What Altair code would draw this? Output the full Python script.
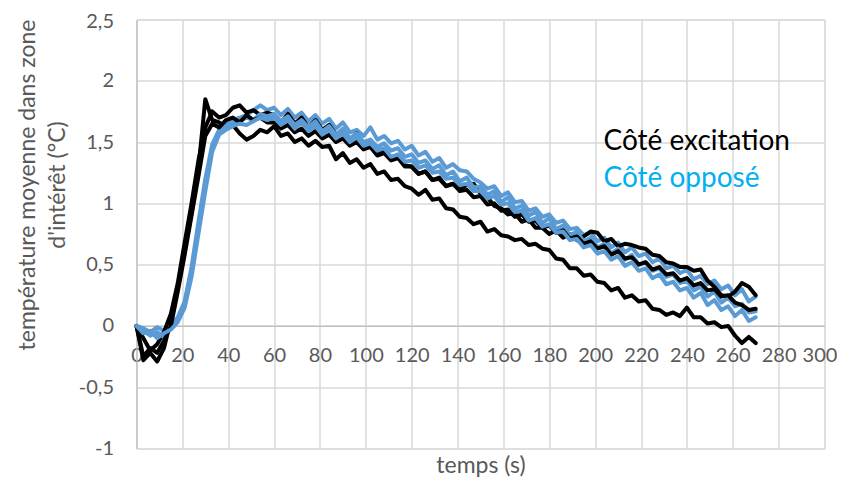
import altair as alt
import pandas as pd

# time axis (s), one sample every 3 s
T = list(range(0, 271, 3))

# Côté excitation (black)
B1 = [0.00, -0.28, -0.22, -0.29, -0.18, 0.05, 0.32, 0.62, 0.92, 1.28,
      1.85, 1.68, 1.66, 1.62, 1.64, 1.57, 1.52, 1.55, 1.60, 1.58,
      1.63, 1.55, 1.57, 1.50, 1.53, 1.47, 1.51, 1.46, 1.47, 1.36,
      1.41, 1.33, 1.36, 1.29, 1.32, 1.24, 1.26, 1.19, 1.20, 1.14,
      1.12, 1.07, 1.11, 1.03, 1.04, 0.96, 0.95, 0.89, 0.88, 0.83,
      0.85, 0.77, 0.79, 0.74, 0.73, 0.70, 0.71, 0.66, 0.67, 0.63,
      0.62, 0.55, 0.54, 0.47, 0.47, 0.41, 0.42, 0.36, 0.35, 0.29,
      0.31, 0.23, 0.25, 0.20, 0.21, 0.14, 0.13, 0.09, 0.11, 0.08,
      0.15, 0.07, 0.07, 0.02, 0.03, -0.01, 0.00, -0.08, -0.14, -0.09,
      -0.14]
B2 = [0.00, -0.10, -0.20, -0.15, -0.05, 0.10, 0.35, 0.68, 1.00, 1.35,
      1.62, 1.75, 1.70, 1.72, 1.78, 1.80, 1.74, 1.76, 1.72, 1.74,
      1.72, 1.66, 1.73, 1.65, 1.70, 1.62, 1.68, 1.60, 1.64, 1.56,
      1.60, 1.52, 1.57, 1.46, 1.47, 1.41, 1.42, 1.36, 1.38, 1.31,
      1.30, 1.24, 1.26, 1.19, 1.20, 1.14, 1.16, 1.11, 1.15, 1.16,
      1.08, 1.05, 0.98, 0.96, 0.91, 0.92, 0.85, 0.87, 0.80, 0.80,
      0.75, 0.78, 0.72, 0.75, 0.70, 0.73, 0.77, 0.76, 0.69, 0.71,
      0.65, 0.67, 0.66, 0.64, 0.63, 0.58, 0.57, 0.52, 0.51, 0.48,
      0.48, 0.45, 0.46, 0.37, 0.32, 0.25, 0.24, 0.28, 0.35, 0.32,
      0.25]
B3 = [0.00, -0.25, -0.18, -0.22, -0.12, 0.00, 0.28, 0.58, 0.90, 1.22,
      1.55, 1.65, 1.62, 1.68, 1.70, 1.66, 1.72, 1.68, 1.70, 1.66,
      1.66, 1.61, 1.64, 1.58, 1.61, 1.55, 1.59, 1.53, 1.56, 1.50,
      1.53, 1.47, 1.50, 1.44, 1.46, 1.39, 1.41, 1.35, 1.37, 1.30,
      1.30, 1.24, 1.26, 1.19, 1.21, 1.14, 1.16, 1.10, 1.11, 1.05,
      1.06, 0.99, 1.00, 0.94, 0.95, 0.89, 0.91, 0.85, 0.86, 0.80,
      0.82, 0.76, 0.78, 0.71, 0.73, 0.67, 0.69, 0.63, 0.65, 0.58,
      0.61, 0.55, 0.56, 0.50, 0.52, 0.46, 0.48, 0.42, 0.43, 0.37,
      0.39, 0.33, 0.35, 0.29, 0.30, 0.24, 0.25, 0.19, 0.17, 0.13,
      0.14]

# Côté opposé (blue)
L1 = [0.00, -0.02, -0.05, -0.01, -0.04, 0.00, 0.07, 0.20, 0.48, 0.85,
      1.20, 1.48, 1.60, 1.65, 1.68, 1.70, 1.72, 1.76, 1.80, 1.76,
      1.78, 1.72, 1.77, 1.70, 1.74, 1.67, 1.72, 1.65, 1.69, 1.61,
      1.66, 1.58, 1.60, 1.55, 1.62, 1.52, 1.55, 1.49, 1.51, 1.44,
      1.47, 1.39, 1.42, 1.34, 1.37, 1.29, 1.32, 1.27, 1.26, 1.20,
      1.17, 1.12, 1.14, 1.06, 1.09, 1.01, 1.02, 0.94, 0.96, 0.89,
      0.91, 0.84, 0.86, 0.79, 0.80, 0.74, 0.76, 0.69, 0.72, 0.64,
      0.68, 0.60, 0.64, 0.57, 0.59, 0.52, 0.55, 0.47, 0.49, 0.43,
      0.46, 0.38, 0.41, 0.34, 0.37, 0.30, 0.33, 0.25, 0.30, 0.20,
      0.24]
L2 = [0.00, -0.04, -0.08, -0.05, -0.09, -0.02, 0.05, 0.18, 0.45, 0.80,
      1.15, 1.45, 1.58, 1.62, 1.66, 1.67, 1.70, 1.68, 1.73, 1.71,
      1.73, 1.67, 1.71, 1.64, 1.68, 1.62, 1.67, 1.59, 1.63, 1.56,
      1.61, 1.53, 1.57, 1.50, 1.52, 1.46, 1.49, 1.43, 1.45, 1.38,
      1.40, 1.33, 1.35, 1.28, 1.31, 1.23, 1.26, 1.18, 1.21, 1.13,
      1.14, 1.07, 1.10, 1.01, 1.05, 0.96, 0.98, 0.90, 0.93, 0.84,
      0.88, 0.79, 0.82, 0.74, 0.77, 0.69, 0.72, 0.64, 0.67, 0.59,
      0.63, 0.54, 0.58, 0.50, 0.52, 0.45, 0.47, 0.40, 0.42, 0.35,
      0.37, 0.29, 0.32, 0.24, 0.28, 0.19, 0.23, 0.16, 0.18, 0.11,
      0.12]
L3 = [0.00, -0.06, -0.04, -0.10, -0.06, -0.03, 0.03, 0.15, 0.40, 0.75,
      1.10, 1.42, 1.56, 1.60, 1.63, 1.65, 1.64, 1.67, 1.70, 1.68,
      1.70, 1.64, 1.68, 1.61, 1.66, 1.59, 1.63, 1.56, 1.60, 1.53,
      1.57, 1.50, 1.54, 1.47, 1.49, 1.43, 1.45, 1.38, 1.40, 1.34,
      1.35, 1.29, 1.31, 1.25, 1.26, 1.20, 1.21, 1.15, 1.16, 1.10,
      1.10, 1.04, 1.06, 0.99, 1.00, 0.93, 0.94, 0.86, 0.88, 0.81,
      0.83, 0.76, 0.77, 0.70, 0.71, 0.64, 0.66, 0.59, 0.61, 0.54,
      0.57, 0.49, 0.52, 0.45, 0.47, 0.39, 0.42, 0.34, 0.36, 0.29,
      0.31, 0.23, 0.27, 0.17, 0.21, 0.13, 0.16, 0.08, 0.13, 0.04,
      0.07]

SERIES = [("a_B1", "excitation", B1), ("b_L1", "opposé", L1),
          ("c_B2", "excitation", B2), ("d_L2", "opposé", L2),
          ("e_B3", "excitation", B3), ("f_L3", "opposé", L3)]

rows = []
for key, side, vals in SERIES:
    for t, v in zip(T, vals):
        rows.append({"t": t, "v": v, "run": key, "side": side})
df = pd.DataFrame(rows)

FONT = "Lato"
GRAY = "#595959"

lines = alt.Chart(df).mark_line(strokeWidth=4, strokeJoin="round", strokeCap="round").encode(
    x=alt.X("t:Q",
            scale=alt.Scale(domain=[0, 300], nice=False, zero=False),
            axis=alt.Axis(values=list(range(0, 301, 20)), title="temps (s)",
                          offset=-122.6, tickSize=0, labelPadding=20,
                          labelOverlap=False, labelFlush=False,
                          labelOffset={"condition": {"test": "datum.value == 300", "value": -5},
                                       "value": 0},
                          labelFontSize=20, labelColor=GRAY, labelFont=FONT,
                          titleFontSize=23, titleFont=FONT, titleColor=GRAY,
                          titleFontWeight="normal", titleY=140, titleBaseline="middle",
                          domainColor="#bfbfbf", domainWidth=1.2,
                          gridColor="#d9d9d9", gridWidth=1.5)),
    y=alt.Y("v:Q",
            scale=alt.Scale(domain=[-1, 2.5], nice=False, zero=False),
            axis=alt.Axis(values=[-1, -0.5, 0, 0.5, 1, 1.5, 2, 2.5],
                          labelExpr="replace(toString(datum.value), '.', ',')",
                          title=["température moyenne dans zone", "d'intérêt (°C)"],
                          tickSize=0, labelPadding=23, labelOverlap=False, labelFlush=False,
                          labelOffset={"condition": {"test": "datum.value == 2.5", "value": 2},
                                       "value": 0},
                          labelFontSize=20, labelColor=GRAY, labelFont=FONT,
                          titleFontSize=23, titleFont=FONT, titleColor=GRAY,
                          titleFontWeight="normal", titleLineHeight=30,
                          titleAngle=-90, titleAlign="center", titleBaseline="middle",
                          titleX=-109, titleY=165,
                          domainColor="#bfbfbf", domainWidth=1.2,
                          gridColor="#d9d9d9", gridWidth=1.5)),
    color=alt.Color("side:N",
                    scale=alt.Scale(domain=["excitation", "opposé"], range=["#000000", "#5B9BD5"]),
                    legend=None),
    detail="run:N",
)

leg1 = alt.Chart(pd.DataFrame({"label": ["Côté excitation"]})).mark_text(
    align="left", baseline="alphabetic", font=FONT, fontSize=28, color="#000000"
).encode(text="label:N", x=alt.value(467), y=alt.value(130))

leg2 = alt.Chart(pd.DataFrame({"label": ["Côté opposé"]})).mark_text(
    align="left", baseline="alphabetic", font=FONT, fontSize=28, color="#00B0F0"
).encode(text="label:N", x=alt.value(467), y=alt.value(167))

chart = alt.layer(lines, leg1, leg2).properties(
    width=688, height=429,
    autosize=alt.AutoSizeParams(type="none"),
    padding={"left": 128.5, "top": 11.5, "right": 12, "bottom": 30},
).configure_view(stroke=None).configure(background="white")

chart.save("out.html", embed_options={"renderer": "svg", "actions": False})
